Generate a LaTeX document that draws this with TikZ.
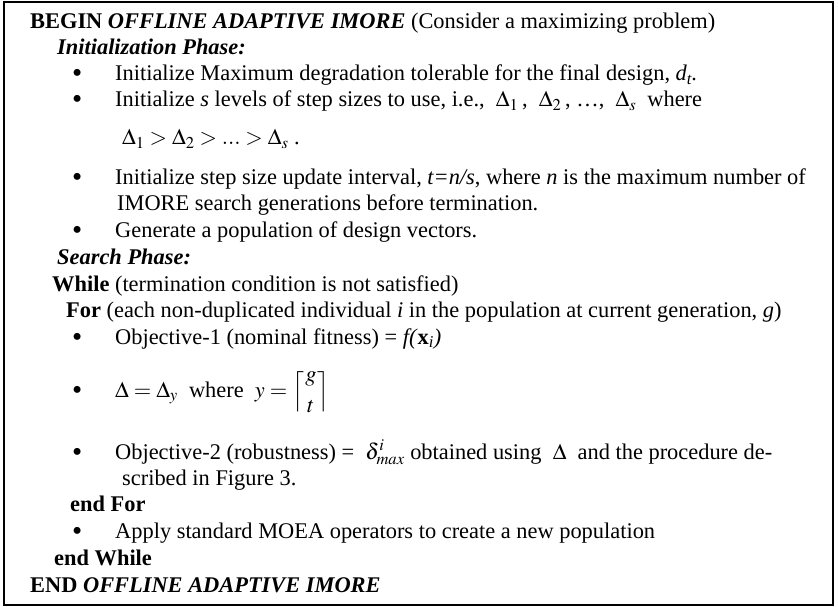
\documentclass[tikz,border=0pt]{standalone}
\usepackage{mathptmx}
\usepackage{fontspec}
\setmainfont{Liberation Serif}
\begin{document}
\begin{tikzpicture}[x=1pt,y=-1pt,
  txt/.style={anchor=base west, inner sep=0pt, font=\fontsize{22.4}{26}\selectfont},
  bul/.style={anchor=base west, inner sep=0pt, font=\fontsize{29}{30}\selectfont},
  frame/.style={draw=black, line width=1.6pt}]
\useasboundingbox (0,0) rectangle (838,607);
\draw[frame] (4,2) rectangle (833,605);

% header
\node[txt] (begin) at (30,29) {\textbf{BEGIN} \textbf{\textit{OFFLINE ADAPTIVE IMORE}} (Consider a maximizing problem)};
\node[txt] (initph) at (57,55) {\textbf{\textit{Initialization Phase:}}};

% initialization steps
\node[bul] (b1) at (72,83) {\textbullet};
\node[txt] (t1) at (115,81) {Initialize Maximum degradation tolerable for the final design, \textit{d\textsubscript{t}.}};
\node[bul] (b2) at (72,109) {\textbullet};
\node[txt] (t2) at (115,107) {Initialize \textit{s} levels of step sizes to use, i.e.,\ \ $\Delta_1$\,,\ \ $\Delta_2$\,, …,\ \ $\Delta_s$\ \ where};
\node[txt] (t2b) at (122,145) {$\Delta_1 > \Delta_2 > ... > \Delta_s$\ .};
\node[bul] (b3) at (72,186) {\textbullet};
\node[txt] (t3) at (115,184) {Initialize step size update interval, \textit{t=n/s}, where \textit{n} is the maximum number of};
\node[txt] (t3b) at (117,210) {IMORE search generations before termination.};
\node[bul] (b4) at (72,239) {\textbullet};
\node[txt] (t4) at (115,237) {Generate a population of design vectors.};

% search loop
\node[txt] (searchph) at (57,264) {\textbf{\textit{Search Phase:}}};
\node[txt] (while) at (52,291) {\textbf{While} (termination condition is not satisfied)};
\node[txt] (for) at (66,317) {\textbf{For} (each non-duplicated individual \textit{i} in the population at current generation, \textit{g})};
\node[bul] (b5) at (72,346) {\textbullet};
\node[txt] (t5) at (115,344) {Objective-1 (nominal fitness) = \textit{f(}\textbf{x}\textsubscript{\textit{i}}\textit{)}};
\node[bul] (b6) at (72,399) {\textbullet};
\node[txt] (t6) at (115,397) {$\Delta = \Delta_y$\ \ where\ \ $\displaystyle y = \left\lceil {g \atop t} \right\rceil$};
\node[bul] (b7) at (72,461) {\textbullet};
\node[txt] (t7) at (115,459) {Objective-2 (robustness) =\ \ $\delta^{i}_{max}$\ obtained using\ \ $\Delta$\ \ and the procedure de-};
\node[txt] (t7b) at (122,485) {scribed in Figure 3.};
\node[txt] (endfor) at (70,511) {\textbf{end For}};
\node[bul] (b8) at (72,540) {\textbullet};
\node[txt] (t8) at (115,538) {Apply standard MOEA operators to create a new population};
\node[txt] (endwhile) at (54,565) {\textbf{end While}};
\node[txt] (end) at (30,592) {\textbf{END \textit{OFFLINE ADAPTIVE IMORE}}};
\end{tikzpicture}
\end{document}
